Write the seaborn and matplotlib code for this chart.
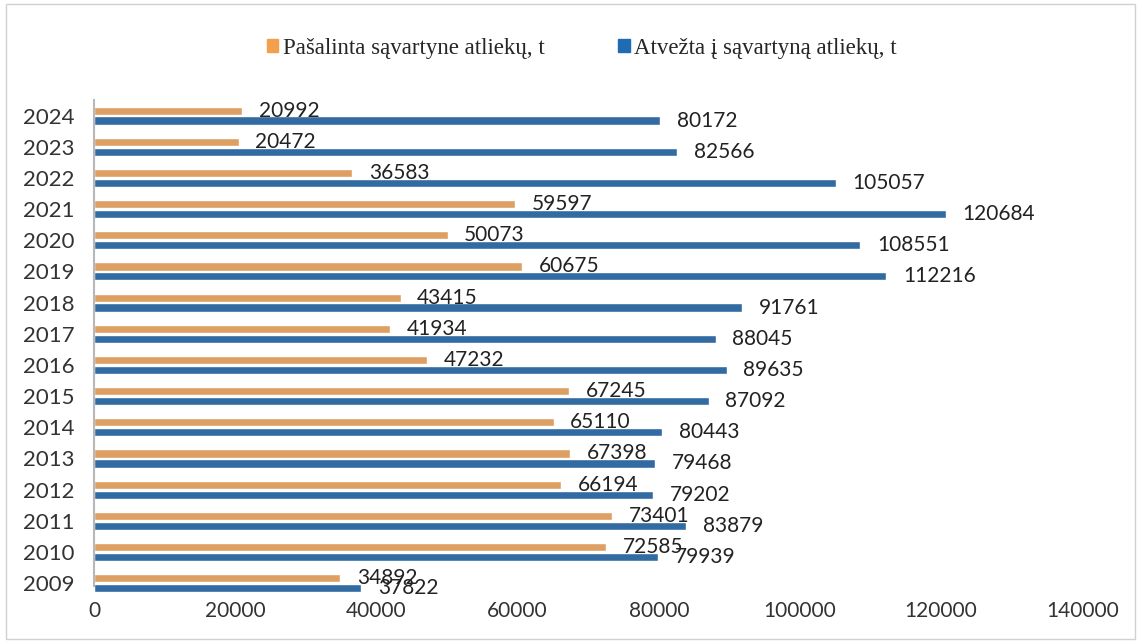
import matplotlib
matplotlib.use('Agg')
import matplotlib.pyplot as plt
import matplotlib.patches as mpatches
import seaborn as sns
import pandas as pd

sns.set_theme(style='white')

metai = [2024, 2023, 2022, 2021, 2020, 2019, 2018, 2017, 2016, 2015, 2014, 2013, 2012, 2011, 2010, 2009]
pasalinta = [20992, 20472, 36583, 59597, 50073, 60675, 43415, 41934, 47232, 67245, 65110, 67398, 66194, 73401, 72585, 34892]
atvezta = [80172, 82566, 105057, 120684, 108551, 112216, 91761, 88045, 89635, 87092, 80443, 79468, 79202, 83879, 79939, 37822]

ser_pas = "Pašalinta sąvartyne atliekų, t"
ser_atv = "Atvežta į sąvartyną atliekų, t"
spalvos = {ser_pas: "#F2A04E", ser_atv: "#1F6CB4"}

df = pd.concat([
    pd.DataFrame({"metai": metai, "kiekis": pasalinta, "serija": ser_pas}),
    pd.DataFrame({"metai": metai, "kiekis": atvezta, "serija": ser_atv}),
])
df["metai"] = df["metai"].astype(str)

fig = plt.figure(figsize=(11.41, 6.41), dpi=100)
ax = fig.add_axes([0.0825, 0.066, 0.866, 0.778])

sns.barplot(data=df, y="metai", x="kiekis", hue="serija", order=[str(m) for m in metai],
            hue_order=[ser_pas, ser_atv], palette=spalvos, orient="h",
            width=0.64, gap=0.18, ax=ax, legend=False)

for cont in ax.containers:
    ax.bar_label(cont, padding=12, fontsize=15, family="Lato", color="#222222")

ax.set_xlim(0, 140000)
ax.set_ylim(15.5, -0.5)
ax.set_xticks(range(0, 140001, 20000))
ax.set_xlabel("")
ax.set_ylabel("")
ax.tick_params(axis="x", length=0, pad=2, labelsize=15, colors="#333333")
ax.tick_params(axis="y", length=0, pad=14, labelsize=16, colors="#333333")
for lbl in ax.get_xticklabels() + ax.get_yticklabels():
    lbl.set_family("Lato")

for s in ["top", "right", "bottom"]:
    ax.spines[s].set_visible(False)
ax.spines["left"].set_color("#b8b8b8")
ax.spines["left"].set_linewidth(1.5)
ax.spines["left"].set_bounds(-0.5, 15.1)

rankenos = [mpatches.Patch(color=spalvos[ser_pas], label=ser_pas),
            mpatches.Patch(color=spalvos[ser_atv], label=ser_atv)]
fig.legend(handles=rankenos, loc="center", bbox_to_anchor=(0.51, 0.925), ncol=2, frameon=False,
           prop={"family": "Liberation Serif", "size": 16.5}, handlelength=0.5, handleheight=0.5,
           handletextpad=0.2, columnspacing=3.2)

fig.patches.append(mpatches.Rectangle((0.005, 0.003), 0.99, 0.99, transform=fig.transFigure,
                                      fill=False, edgecolor="#d0d0d0", linewidth=1))

fig.savefig("out.png", dpi=100)
